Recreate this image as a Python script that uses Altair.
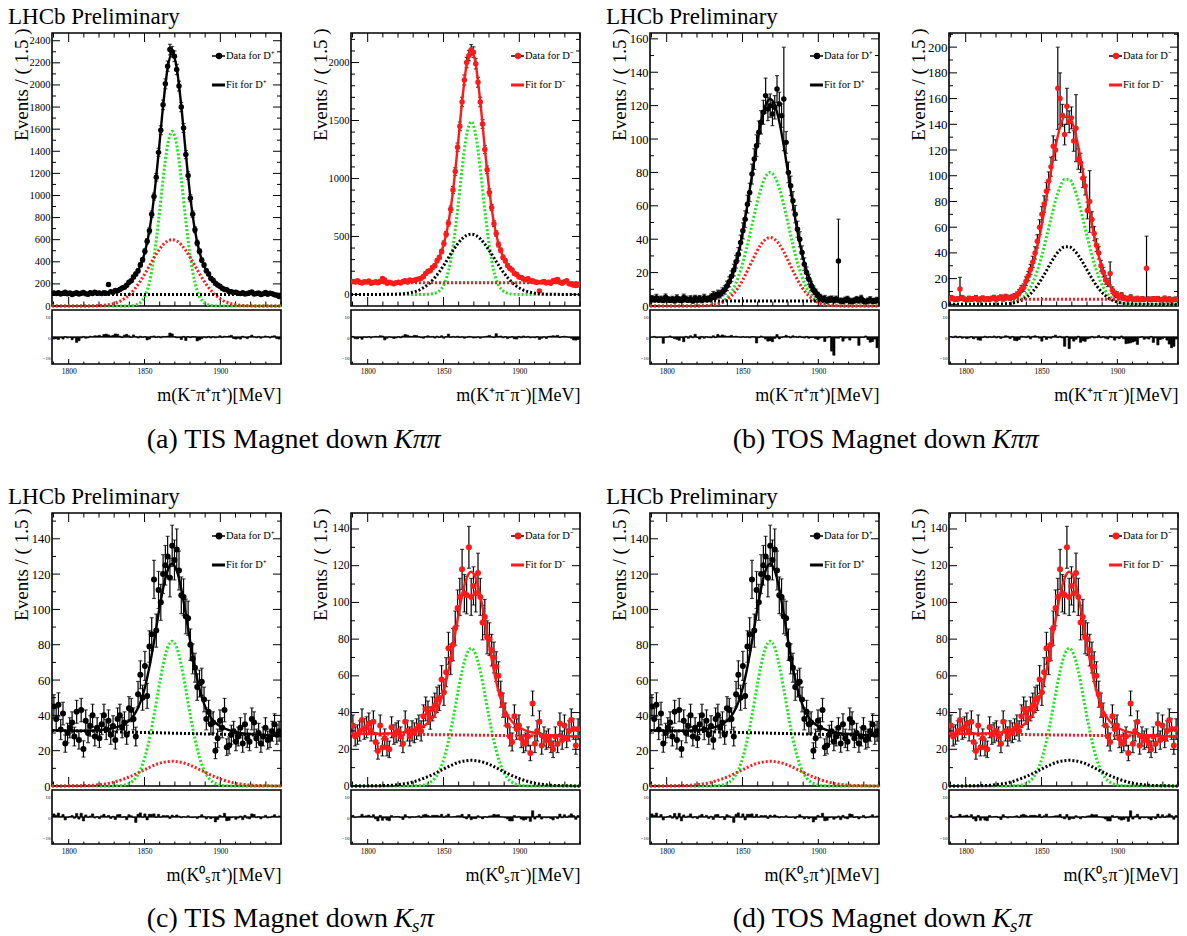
import altair as alt
import pandas as pd

SERIF = "Liberation Serif"
GREEN = "#22e022"
RED = "#ff1a1a"
BLACK = "#000000"

W, HM, GAP, HR = 229, 273, 4, 54
HT = HM + GAP + HR

XDOM = [1789, 1940]
FIRST_CENTRE = 1790.25
BIN_WIDTH = 1.5
N_BINS = 100
X_MAJOR = [1800, 1850, 1900]
X_MINOR = [1790, 1810, 1820, 1830, 1840, 1860, 1870, 1880, 1890, 1910, 1920, 1930, 1940]
PULL_DOM = [-13, 13]
PULL_LABELS = [-10, 0, 10]

CURVE_X = [1789, 1808.25, 1817.25, 1823.25, 1826.25, 1829.25, 1832.25, 1835.25, 1838.25,
           1841.25, 1844.25, 1847.25, 1850.25, 1853.25, 1856.25, 1859.25, 1862.25, 1865.25,
           1868.25, 1871.25, 1874.25, 1877.25, 1880.25, 1883.25, 1886.25, 1889.25, 1892.25,
           1895.25, 1898.25, 1901.25, 1904.25, 1907.25, 1910.25, 1913.25, 1919.25, 1928.25, 1940]
BG_X = [1789, 1940]

# ---------------- (a) TIS Kpipi, D+ ----------------
AL_DATA = [118, 112, 121, 108, 115, 124, 110, 117, 104, 113, 120, 109, 116, 122, 111, 107, 119, 114, 125, 116,
           118, 112, 121, 115, 195, 128, 124, 140, 138, 150,
           162, 170, 188, 215, 228, 262, 290, 318, 372, 418,
           495, 585, 680, 830, 990, 1165, 1390, 1590, 1820, 2010,
           2170, 2320, 2300, 2260, 2140, 1990, 1800, 1610, 1370, 1180,
           975, 830, 690, 570, 495, 415, 370, 318, 290, 250,
           232, 205, 190, 178, 160, 150, 146, 132, 128, 122,
           124, 116, 112, 119, 108, 114, 120, 126, 109, 113,
           118, 104, 111, 122, 107, 115, 110, 101, 97, 85]
AL_ERR = [11, 11, 11, 10, 11, 11, 10, 11, 10, 11, 11, 10, 11, 11, 11, 10, 11, 11, 11, 11,
          11, 11, 11, 11, 14, 11, 11, 12, 12, 12,
          13, 13, 14, 15, 15, 16, 17, 18, 19, 20,
          22, 24, 26, 29, 31, 34, 37, 40, 43, 45,
          47, 48, 48, 48, 46, 45, 42, 40, 37, 34,
          31, 29, 26, 24, 22, 20, 19, 18, 17, 16,
          15, 14, 14, 13, 13, 12, 12, 11, 11, 11,
          11, 11, 11, 11, 10, 11, 11, 11, 10, 11,
          11, 10, 11, 11, 10, 11, 10, 10, 10, 9]
AL_PULL = [-1.0, -0.8, -1.2, -0.3, -1.0, 0.2, -0.5, -0.2, -1.3, -0.4, -2.6, -1.8, -0.5, 0.3, -0.6, -0.4, 0.4, 0.1, 0.6, 0.5,
           0.8, 0.3, 1.2, 1.4, 1.0, 0.5, 0.8, 1.5, 1.3, 0.4,
           -0.3, 0.9, 1.3, 0.6, -0.2, 1.0, 0.2, -0.5, 0.4, -0.2,
           0.2, -1.4, -1.0, 0.3, 0.5, -0.3, 0.3, -0.4, 0.3, 0.2,
           0.4, 1.9, 1.5, 0.2, -0.4, -0.3, -1.2, 0.3, -1.7, 0.2,
           -0.3, 0.2, 0.1, -1.9, -1.4, -0.8, 0.1, -0.4, 0.3, -0.5,
           0.2, -0.4, -0.1, 0.6, -0.3, 0.4, 0.2, 0.5, 0.8, -0.7,
           -1.0, -0.6, -1.0, 0.4, -0.3, -0.8, 0.2, 0.9, 0.1, -0.4,
           0.3, -0.6, -0.1, 0.5, 0.2, -0.5, 0.4, 0.6, -0.8, -1.0]
AL_TOTAL = [108, 108, 110, 115, 120, 128, 142, 161, 190, 229, 285, 365, 488, 685, 983, 1378, 1809, 2154,
            2288, 2154, 1809, 1378, 983, 685, 488, 365, 285, 229, 190, 161, 142, 128, 120, 115, 110, 108, 108]
AL_SIG = [0, 0, 0, 0, 0, 0, 0, 0, 0.5, 2.4, 9.5, 32, 88, 213, 439, 769, 1147, 1458,
          1580, 1458, 1147, 769, 439, 213, 88, 32, 9.5, 2.4, 0.5, 0, 0, 0, 0, 0, 0, 0, 0]
AL_WIDE = [0, 0.2, 1.9, 6.7, 12, 20, 34, 53, 81, 119, 167, 225, 292, 364, 436, 501, 554, 588,
           600, 588, 554, 501, 436, 364, 292, 225, 167, 119, 81, 53, 34, 20, 12, 6.7, 1.9, 0.2, 0]
AL_BG = [105, 105]

# ---------------- (a) TIS Kpipi, D- ----------------
AR_DATA = [112, 108, 118, 104, 99, 110, 106, 115, 97, 103, 109, 101, 112, 138, 125, 96, 104, 99, 92, 101,
           105, 98, 112, 118, 106, 124, 116, 122, 128, 134,
           140, 155, 180, 200, 205, 232, 248, 290, 318, 370,
           440, 520, 615, 735, 900, 1060, 1270, 1450, 1660, 1850,
           2000, 2060, 2110, 2090, 1990, 1830, 1660, 1470, 1250, 1075,
           880, 750, 610, 525, 430, 380, 320, 290, 250, 225,
           210, 180, 172, 150, 145, 132, 126, 135, 115, 118,
           108, 104, 30, 106, 112, 98, 104, 96, 118, 122,
           128, 104, 96, 110, 118, 92, 88, 80, 76, 82]
AR_ERR = [11, 10, 11, 10, 10, 10, 10, 11, 10, 10, 10, 10, 11, 12, 11, 10, 10, 10, 10, 10,
          10, 10, 11, 11, 10, 11, 11, 11, 11, 12,
          12, 12, 13, 14, 14, 15, 16, 17, 18, 19,
          21, 23, 25, 27, 30, 33, 36, 38, 41, 43,
          45, 45, 46, 46, 45, 43, 41, 38, 35, 33,
          30, 27, 25, 23, 21, 19, 18, 17, 16, 15,
          14, 13, 13, 12, 12, 11, 11, 12, 11, 11,
          10, 10, 5, 10, 11, 10, 10, 10, 11, 11,
          11, 10, 10, 10, 11, 10, 9, 9, 9, 9]
AR_PULL = [0.3, -0.8, -0.9, -0.2, -1.1, 0.1, -0.3, 0.2, -0.5, 0.1, 0.3, 0.1, 0.6, 0.5, -1.4, -0.6, 0.1, -0.2, -0.7, -0.5,
           0.2, -0.4, 0.5, 1.2, 0.9, 0.4, 0.3, 0.8, 0.7, 0.2,
           -0.3, -0.6, 0.2, 0.6, 0.1, 0.3, -0.5, 0.4, -0.2, 0.6,
           -0.6, 0.2, 1.4, -0.2, 0.3, -0.1, 0.4, -0.3, 0.1, -0.6,
           -0.2, 0.3, 0.1, -0.5, -0.4, 0.1, -0.6, -0.1, 0.2, 0.4,
           0.8, 0.1, -0.3, 1.6, 0.3, 0.5, -0.4, 0.2, -0.8, -0.3,
           0.2, -0.9, -1.0, 0.3, -0.4, 0.5, -0.2, 0.3, -0.5, -0.1,
           -0.4, 0.2, -1.2, -0.6, 0.1, -0.7, 0.3, 0.4, 0.6, 0.5,
           0.8, -0.3, 0.2, 0.4, 0.1, -0.2, -0.6, -1.4, -1.5, -1.2]
AR_TOTAL = [100, 100, 102, 106, 110, 118, 129, 146, 170, 205, 254, 325, 436, 617, 892, 1260, 1662, 1985,
            2110, 1985, 1662, 1260, 892, 617, 436, 325, 254, 205, 170, 146, 129, 118, 110, 106, 102, 100, 100]
AR_SIG = [0, 0, 0, 0, 0, 0, 0, 0, 0.4, 2.2, 9, 30, 83, 201, 414, 726, 1082, 1375,
          1490, 1375, 1082, 726, 414, 201, 83, 30, 9, 2.2, 0.4, 0, 0, 0, 0, 0, 0, 0, 0]
AR_WIDE = [0, 0.2, 1.6, 5.7, 10, 18, 29, 46, 70, 103, 145, 195, 253, 316, 378, 434, 480, 510,
           520, 510, 480, 434, 378, 316, 253, 195, 145, 103, 70, 46, 29, 18, 10, 5.7, 1.6, 0.2, 0]
AR_BG = [100, 100]

# ---------------- (b) TOS Kpipi, D+ ----------------
BL_DATA = [4.5, 4, 5, 3.8, 4.2, 3.5, 5.2, 4, 3.6, 4.1, 3.2, 4.8, 3.9, 3.5, 5.1, 4.2, 3.7, 4.4, 3.1, 4.6,
           3.8, 4.5, 3.4, 5, 4.1, 4.3, 5.2, 6.5, 6, 7.2,
           7, 8.5, 9.6, 12, 14.5, 17.8, 21.5, 26.5, 31, 38,
           45, 52, 61, 68, 79, 88, 96, 104, 110, 116,
           126, 118, 120, 115, 119, 130, 121, 114, 124, 98,
           80, 72, 63, 55, 46, 40, 32, 25, 20, 16,
           12, 9.5, 7.8, 6, 5, 3.8, 4.4, 3.2, 3.9, 4.2,
           3.5, 4.1, 27, 3.2, 2.8, 3.6, 4, 3.1, 2.7, 3.3,
           3.9, 3.4, 4.5, 3, 2.6, 3.2, 3.8, 2.9, 3.1, 3.5]
BL_ERR = [1.8, 1.6, 2, 1.5, 1.7, 1.5, 2, 1.6, 1.5, 1.7, 1.4, 1.9, 1.6, 1.5, 2, 1.7, 1.5, 1.8, 1.4, 1.8,
          1.6, 1.8, 1.5, 2, 1.7, 1.7, 2, 2.2, 2.1, 2.3,
          2.2, 2.4, 2.5, 2.8, 3, 3.2, 3.5, 3.8, 4, 4.5,
          4.8, 5, 5.3, 5.5, 6, 6.2, 6.5, 6.8, 7, 7.2,
          10.5, 7, 7, 7, 7, 8, 7, 7, 31, 6.5,
          6.2, 5.8, 5.5, 5.2, 4.8, 4.5, 4, 3.8, 3.4, 3,
          2.8, 2.5, 2.3, 2.1, 2, 1.8, 1.9, 1.6, 1.8, 1.8,
          1.7, 1.8, 25, 1.6, 1.5, 1.7, 1.8, 1.6, 1.5, 1.6,
          1.8, 1.7, 1.9, 1.5, 1.4, 1.6, 1.8, 1.5, 1.6, 1.7]
BL_PULL = [-0.2, 0.3, -0.4, -0.2, -0.1, -3.0, -0.2, 0.1, 0.5, -0.3, -0.8, -1.1, -1.6, -0.3, -2.3, 0.3, -0.6, 0.6, -0.4, 1.3,
           -0.2, -1.0, 0.3, -0.6, 0.2, -0.3, -0.4, 0.6, -0.3, 1.2,
           0.5, 1.0, 0.6, 0.3, 0.4, 0.8, 0.2, 0.4, 0.1, -0.2,
           0.3, -0.2, 0.1, -0.4, 0.2, 0.1, -2.9, -0.3, 0.5, -0.1,
           -1.0, -2.0, -1.8, -2.3, -0.7, 1.2, -0.9, -0.3, 0.2, 0.8,
           0.3, -0.4, 0.6, 0.2, -0.3, 0.4, -0.2, -0.5, 0.3, -0.6,
           -0.3, -0.2, -0.8, -1.2, -0.5, -0.3, -2.2, -0.4, 0.2, -6.8,
           -8.8, -0.5, -0.6, 0.2, -2.0, -0.6, -0.4, -1.5, -0.3, -0.4,
           -0.4, -4.0, -0.2, -0.3, 0.5, -1.2, -2.5, -2.2, -1.0, -5.2]
BL_TOTAL = [3, 3, 3, 3.2, 3.4, 3.9, 4.8, 6.4, 9.4, 14.2, 21.3, 31.4, 44.7, 60.7, 78.4, 95.7, 110.5, 120.4,
            124, 120.4, 110.5, 95.7, 78.4, 60.7, 44.7, 31.4, 21.3, 14.2, 9.4, 6.4, 4.8, 3.9, 3.4, 3.2, 3, 3, 3]
BL_SIG = [0, 0, 0, 0.1, 0.2, 0.4, 0.9, 1.8, 3.5, 6.4, 10.8, 17.3, 26, 36.6, 48.6, 60.4, 70.6, 77.5,
          80, 77.5, 70.6, 60.4, 48.6, 36.6, 26, 17.3, 10.8, 6.4, 3.5, 1.8, 0.9, 0.4, 0.2, 0.1, 0, 0, 0]
BL_WIDE = [0, 0, 0, 0.1, 0.2, 0.5, 0.9, 1.6, 2.9, 4.8, 7.5, 11.1, 15.7, 21.1, 26.8, 32.3, 36.9, 39.9,
           41, 39.9, 36.9, 32.3, 26.8, 21.1, 15.7, 11.1, 7.5, 4.8, 2.9, 1.6, 0.9, 0.5, 0.2, 0.1, 0, 0, 0]
BL_BG = [3, 3]

# ---------------- (b) TOS Kpipi, D- ----------------
BR_DATA = [5, 4.5, 3.8, 4.2, 12, 5.1, 4, 3.5, 4.6, 3.9, 4.4, 5, 3.6, 4.1, 4.8, 3.7, 4.3, 3.9, 4.6, 5.2,
           4, 4.8, 5.5, 4.2, 5.9, 5.3, 5, 5.8, 6.3, 7.4,
           9, 12, 13, 18, 22, 27, 33, 40, 49, 60,
           70, 78, 88, 96, 107, 123, 120, 168, 160, 147,
           132, 154, 142, 145, 127, 137, 113, 110, 98, 92,
           73, 80, 66, 55, 46, 40, 30, 25, 19, 17,
           24, 11, 8, 7.5, 5.5, 7, 5, 4.5, 4.2, 5.5,
           4, 3.8, 4.5, 3.6, 4.2, 3.9, 28, 4.1, 3.7, 4.3,
           3.9, 4.4, 3.6, 3.8, 4.6, 3.5, 4.1, 3.2, 3.8, 4]
BR_ERR = [1.8, 1.7, 1.5, 1.6, 9, 1.8, 1.6, 1.5, 1.7, 1.5, 1.6, 1.8, 1.5, 1.6, 1.7, 1.5, 1.6, 1.5, 1.7, 1.8,
          1.6, 1.7, 1.8, 1.6, 1.9, 1.8, 1.8, 1.9, 2, 2.2,
          2.4, 2.7, 2.9, 3.3, 3.6, 4, 4.4, 4.8, 5.2, 5.8,
          6, 6.4, 6.8, 7, 7.4, 8, 8, 32, 20, 8.5,
          8, 14, 8.5, 8.5, 8, 26, 8, 7.5, 7.2, 7,
          6.5, 24, 6, 5.5, 5, 4.8, 4.2, 3.8, 3.4, 3.2,
          9, 2.6, 2.3, 2.2, 2, 2.1, 1.9, 1.8, 1.7, 1.9,
          1.6, 1.6, 1.7, 1.5, 1.7, 1.6, 25, 1.6, 1.5, 1.7,
          1.6, 1.7, 1.5, 1.6, 1.8, 1.5, 1.7, 1.4, 1.6, 1.6]
BR_PULL = [0.2, -0.3, 0.5, -0.4, 0.3, -0.6, -0.2, -0.8, -0.5, 0.2, -0.9, -0.2, -1.4, -1.6, -0.3, 0.4, -0.4, 0.2, -0.3, 0.5,
           -0.5, 0.3, -0.7, -0.2, 0.6, 0.4, -0.8, 0.3, -1.6, -1.8,
           -1.2, 0.4, 0.2, -0.3, 0.5, -0.9, 0.3, 0.6, 0.2, -0.6,
           -2.0, 0.3, -1.2, -0.4, -0.6, 0.3, 0.9, -0.3, 0.4, -0.5,
           -4.5, 0.3, -5.6, -0.8, -2.0, -1.1, 0.4, -2.6, -1.8, -2.1,
           -0.9, -0.6, 0.3, -0.5, -0.3, 0.7, -0.4, 0.2, -0.6, -1.0,
           0.4, -0.3, -1.5, -0.4, -0.8, 0.5, -0.9, -3.2, -3.0, -2.8,
           -2.4, -2.0, -3.6, -0.3, 0.2, -1.1, -0.6, -1.0, 0.3, -2.6,
           -0.5, -3.8, -1.2, -0.9, -0.2, -1.5, -3.4, -5.2, -4.5, -1.0]
BR_TOTAL = [4, 4, 4.1, 4.3, 4.6, 5.4, 7, 9.5, 14, 20.9, 31, 44.8, 62.2, 82.2, 103.3, 122.8, 137.7, 145.9,
            145.9, 137.7, 122.8, 103.3, 82.2, 62.2, 44.8, 31, 20.9, 14, 9.5, 7, 5.4, 4.6, 4.3, 4.1, 4, 4, 4]
BR_SIG = [0, 0, 0, 0.1, 0.3, 0.7, 1.6, 3.1, 5.9, 10.3, 16.9, 26.2, 38.1, 52, 66.8, 80.7, 91.3, 97.2,
          97.2, 91.3, 80.7, 66.8, 52, 38.1, 26.2, 16.9, 10.3, 5.9, 3.1, 1.6, 0.7, 0.3, 0.1, 0, 0, 0, 0]
BR_WIDE = [0, 0, 0, 0.2, 0.4, 0.7, 1.4, 2.4, 4.1, 6.6, 10.1, 14.6, 20.1, 26.2, 32.5, 38.1, 42.4, 44.7,
           44.7, 42.4, 38.1, 32.5, 26.2, 20.1, 14.6, 10.1, 6.6, 4.1, 2.4, 1.4, 0.7, 0.4, 0.2, 0, 0, 0, 0]
BR_BG = [4, 4]

# ---------------- (c)/(d) Ks pi, D+ ----------------
CL_DATA = [45, 38, 46, 32, 41, 24, 30, 33, 36, 28,
           42, 26, 43, 21, 37, 30, 34, 40, 28, 33,
           27, 35, 40, 32, 37, 29, 34, 26, 38, 40,
           33, 36, 29, 44, 43, 38, 28, 52, 63, 50,
           68, 51, 79, 86, 117, 88, 111, 104, 120, 125,
           130, 118, 136, 128, 134, 122, 108, 107, 96, 95,
           80, 72, 67, 56, 58, 59, 49, 38, 42, 35,
           36, 20, 27, 37, 33, 43, 22, 23, 29, 31,
           25, 28, 33, 24, 35, 27, 25, 38, 36, 27,
           30, 24, 28, 33, 26, 27, 31, 35, 29, 31]
CL_ERR = [6.7, 6.2, 6.8, 5.7, 6.4, 4.9, 5.5, 5.7, 6, 5.3,
          6.5, 5.1, 6.6, 4.6, 6.1, 5.5, 5.8, 6.3, 5.3, 5.7,
          5.2, 5.9, 6.3, 5.7, 6.1, 5.4, 5.8, 5.1, 6.2, 6.3,
          5.7, 6, 5.4, 6.6, 6.6, 6.2, 5.3, 7.2, 7.9, 7.1,
          8.2, 7.1, 8.9, 9.3, 10.8, 9.4, 10.5, 10.2, 11, 11.2,
          11.4, 10.9, 11.7, 11.3, 11.6, 11, 10.4, 10.3, 9.8, 9.7,
          8.9, 8.5, 8.2, 7.5, 7.6, 7.7, 7, 6.2, 6.5, 5.9,
          6, 4.5, 5.2, 6.1, 5.7, 6.6, 4.7, 4.8, 5.4, 5.6,
          5, 5.3, 5.7, 4.9, 5.9, 5.2, 5, 6.2, 6, 5.2,
          5.5, 4.9, 5.3, 5.7, 5.1, 5.2, 5.6, 5.9, 5.4, 5.6]
CL_PULL = [1.5, 0.8, 1.9, 0.1, 1.2, -1.4, -0.2, 0.2, 0.7, -0.6,
           1.7, -1.0, 1.8, -1.9, 1.0, -0.2, 0.5, 1.5, -0.5, 0.2,
           -0.8, 0.6, 1.3, 0.1, 0.8, -0.7, 0.4, -1.2, 1.1, 1.2,
           -0.2, 0.2, -1.3, 1.1, 0.6, -0.2, -2.6, 1.3, 2.0, -0.1,
           1.5, -1.4, 1.3, 1.3, 1.5, -0.2, 1.3, -0.1, 0.7, 0.6,
           0.7, -0.7, 0.9, 0.3, 1.0, 0.4, -0.4, 0.2, -0.1, 0.6,
           -0.2, -0.3, 0.0, -0.7, 0.3, 1.1, 0.3, -0.9, 0.1, -0.8,
           -0.3, -2.4, -1.2, 0.8, 0.2, 1.8, -1.8, -1.6, -0.4, 0.0,
           -1.1, -0.5, 0.5, -1.3, 0.8, -0.6, -0.9, 1.5, 1.2, -0.3,
           0.2, -0.9, -0.1, 0.8, -0.5, -0.3, 0.4, 1.1, 0.0, 0.5]
CL_TOTAL = [31.5, 31.3, 31.4, 31.9, 32.2, 32.8, 33.5, 34.5, 36, 38.1, 41.8, 47.4, 55.8, 67.5, 81.7, 97.5, 111.9, 122.2,
            125.9, 122, 111.7, 97.1, 81.3, 66.9, 55, 46.6, 40.8, 37.1, 34.8, 33.1, 32.1, 31.2, 30.6, 30.1, 29.4, 28.9, 28.5]
CL_SIG = [0, 0, 0, 0, 0, 0, 0.1, 0.3, 0.9, 2.1, 4.6, 9, 16.2, 26.7, 39.9, 54.7, 68.5, 78.4,
          82, 78.4, 68.5, 54.7, 39.9, 26.7, 16.2, 9, 4.6, 2.1, 0.9, 0.3, 0.1, 0, 0, 0, 0, 0, 0]
CL_WIDE = [0, 0.2, 0.5, 1.1, 1.5, 2.1, 2.8, 3.6, 4.6, 5.6, 6.8, 8.1, 9.3, 10.6, 11.7, 12.7, 13.4, 13.8,
           14, 13.8, 13.4, 12.7, 11.7, 10.6, 9.3, 8.1, 6.8, 5.6, 4.6, 3.6, 2.8, 2.1, 1.5, 1.1, 0.5, 0.2, 0]
CL_BG = [31.5, 28.5]

# ---------------- (c)/(d) Ks pi, D- ----------------
CR_DATA = [33, 27, 28, 30, 36, 31, 32, 34, 30, 35,
           24, 19, 33, 21, 26, 21, 20, 32, 28, 29,
           30, 27, 23, 35, 30, 27, 30, 29, 31, 33,
           30, 38, 42, 40, 37, 42, 44, 47, 48, 58,
           51, 62, 75, 69, 77, 86, 97, 103, 118, 105,
           104, 130, 103, 109, 105, 116, 103, 89, 92, 81,
           80, 74, 70, 65, 60, 50, 44, 39, 33, 27,
           24, 38, 31, 33, 26, 23, 24, 27, 18, 45,
           23, 30, 35, 22, 27, 25, 26, 23, 20, 27,
           23, 34, 25, 33, 26, 30, 36, 31, 22, 31]
CR_ERR = [5.7, 5.2, 5.3, 5.5, 6, 5.6, 5.7, 5.8, 5.5, 5.9,
          4.9, 4.4, 5.7, 4.6, 5.1, 4.6, 4.5, 5.7, 5.3, 5.4,
          5.5, 5.2, 4.8, 5.9, 5.5, 5.2, 5.5, 5.4, 5.6, 5.7,
          5.5, 6.2, 6.5, 6.3, 6.1, 6.5, 6.6, 6.9, 6.9, 7.6,
          7.1, 7.9, 8.7, 8.3, 8.8, 9.3, 9.8, 10.1, 10.9, 10.2,
          10.2, 11.4, 10.1, 10.4, 10.2, 10.8, 10.1, 9.4, 9.6, 9,
          8.9, 8.6, 8.4, 8.1, 7.7, 7.1, 6.6, 6.2, 5.7, 5.2,
          4.9, 6.2, 5.6, 5.7, 5.1, 4.8, 4.9, 5.2, 4.2, 6.7,
          4.8, 5.5, 5.9, 4.7, 5.2, 5, 5.1, 4.8, 4.5, 5.2,
          4.8, 5.8, 5, 5.7, 5.1, 5.5, 6, 5.6, 4.7, 5.6]
CR_PULL = [0.8, -0.3, 0.0, 0.3, 1.3, 0.4, 0.6, 0.9, 0.2, 1.1,
           -0.9, -1.9, 0.8, -1.6, -0.5, -1.5, -1.8, 0.7, 0.0, 0.2,
           0.3, -0.3, -1.2, 1.1, 0.2, -0.5, 0.2, -0.1, 0.3, 0.6,
           -0.3, 1.0, 1.3, 0.8, 0.2, 0.8, 0.8, 0.8, 0.5, 1.3,
           -0.2, 0.6, 1.4, 0.0, 0.1, 0.3, 0.6, 0.6, 1.3, -0.4,
           -0.9, 1.2, -1.3, -0.7, -0.8, 0.6, -0.1, -0.9, 0.2, -0.2,
           0.5, 0.6, 1.3, 1.0, 1.1, 0.1, 0.0, -0.4, -1.0, -1.9,
           -1.9, 0.7, -0.2, 0.3, -1.0, -1.5, -1.2, -0.4, -2.1, 3.0,
           -1.0, 0.4, 1.3, -1.0, -0.1, -0.4, -0.1, -0.7, -1.4, 0.0,
           -0.8, 1.4, -0.4, 1.1, -0.2, 0.6, 1.5, 0.7, -1.1, 0.7]
CR_TOTAL = [28.5, 28.5, 28.7, 29.2, 29.6, 30.2, 31, 31.9, 33.4, 35.6, 38.9, 44.3, 52.1, 62.8, 76, 90.5, 103.8, 113.2,
            116.7, 113.2, 103.6, 90.3, 75.8, 62.6, 51.7, 43.9, 38.5, 35, 32.8, 31.3, 30.2, 29.4, 28.8, 28.4, 27.7, 27.3, 27]
CR_SIG = [0, 0, 0, 0, 0, 0, 0.1, 0.3, 0.8, 2, 4.2, 8.3, 14.9, 24.4, 36.5, 50, 62.6, 71.7,
          75, 71.7, 62.6, 50, 36.5, 24.4, 14.9, 8.3, 4.2, 2, 0.8, 0.3, 0.1, 0, 0, 0, 0, 0, 0]
CR_WIDE = [0, 0.2, 0.5, 1.1, 1.5, 2.1, 2.8, 3.6, 4.6, 5.6, 6.8, 8.1, 9.3, 10.6, 11.7, 12.7, 13.4, 13.8,
           14, 13.8, 13.4, 12.7, 11.7, 10.6, 9.3, 8.1, 6.8, 5.6, 4.6, 3.6, 2.8, 2.1, 1.5, 1.1, 0.5, 0.2, 0]
CR_BG = [28.5, 27]

# ---------------- tick label arrays ----------------
YT_AL = [0, 200, 400, 600, 800, 1000, 1200, 1400, 1600, 1800, 2000, 2200, 2400]
YM_AL = [100, 300, 500, 700, 900, 1100, 1300, 1500, 1700, 1900, 2100, 2300]
YT_AR = [0, 500, 1000, 1500, 2000]
YM_AR = [100, 200, 300, 400, 600, 700, 800, 900, 1100, 1200, 1300, 1400, 1600, 1700, 1800, 1900, 2100, 2200]
YT_BL = [0, 20, 40, 60, 80, 100, 120, 140, 160]
YM_BL = [10, 30, 50, 70, 90, 110, 130, 150]
YT_BR = [0, 20, 40, 60, 80, 100, 120, 140, 160, 180, 200]
YM_BR = [10, 30, 50, 70, 90, 110, 130, 150, 170, 190, 210]
YT_C = [0, 20, 40, 60, 80, 100, 120, 140]
YM_C = [10, 30, 50, 70, 90, 110, 130, 150]

XT_KPP_P = "m(K⁻π⁺π⁺)[MeV]"
XT_KPP_M = "m(K⁺π⁻π⁻)[MeV]"
XT_KS_P = "m(K⁰ₛπ⁺)[MeV]"
XT_KS_M = "m(K⁰ₛπ⁻)[MeV]"


def one():
    return pd.DataFrame({"k": [0.0]})


def text_mark(s, x, y, size, color=BLACK, align="left", style="normal", baseline="alphabetic"):
    return alt.Chart(one()).mark_text(
        text=s, align=align, baseline=baseline, font=SERIF, fontSize=size,
        fontStyle=style, color=color
    ).encode(x=alt.value(x), y=alt.value(y))


def build(p):
    XS = alt.Scale(domain=XDOM, nice=False, zero=False)
    YS = alt.Scale(domain=p["ydom"], range=[HM, 0], nice=False, zero=False)
    RS = alt.Scale(domain=PULL_DOM, range=[HT, HM + GAP], nice=False, zero=False)

    centres = [FIRST_CENTRE + BIN_WIDTH * i for i in range(N_BINS)]
    d = pd.DataFrame({"x": centres, "y": p["data"], "e": p["err"], "pull": p["pull"]})
    d["lo"] = d["y"] - d["e"]
    d["hi"] = d["y"] + d["e"]
    d["xl"] = d["x"] - BIN_WIDTH / 2
    d["xr"] = d["x"] + BIN_WIDTH / 2
    d["z"] = 0.0
    cv = pd.DataFrame({"x": CURVE_X, "total": p["total"], "sig": p["sig"], "wide": p["wide"]})
    bg = pd.DataFrame({"x": BG_X, "bg": p["bg"]})

    def X(f):
        return alt.X(f + ":Q", scale=XS, axis=None)

    def Y(f, axis=None):
        return alt.Y(f + ":Q", scale=YS, axis=axis)

    lo, hi = p["ydom"]

    def xt(vals, y0, y1):
        return alt.Chart(pd.DataFrame({"v": vals})).mark_rule(
            color=BLACK, strokeWidth=1).encode(x=X("v"), y=alt.value(y0), y2=alt.value(y1))

    def yt(vals, x0, x1):
        vv = [v for v in vals if lo <= v <= hi]
        return alt.Chart(pd.DataFrame({"v": vv})).mark_rule(
            color=BLACK, strokeWidth=1).encode(y=Y("v"), x=alt.value(x0), x2=alt.value(x1))

    L = []
    # frames
    L.append(alt.Chart(one()).mark_rect(fillOpacity=0, stroke=BLACK, strokeWidth=1.6).encode(
        x=alt.value(0), x2=alt.value(W), y=alt.value(0), y2=alt.value(HM)))
    L.append(alt.Chart(one()).mark_rect(fillOpacity=0, stroke=BLACK, strokeWidth=1.6).encode(
        x=alt.value(0), x2=alt.value(W), y=alt.value(HM + GAP), y2=alt.value(HT)))
    # inward ticks
    L += [xt(X_MAJOR, 0, 9), xt(X_MINOR, 0, 4.5), xt(X_MAJOR, HM - 9, HM), xt(X_MINOR, HM - 4.5, HM),
          xt(X_MAJOR, HT - 5, HT), xt(X_MINOR, HT - 2.5, HT)]
    L += [yt(p["ymaj"], 0, 8), yt(p["ymin"], 0, 4), yt(p["ymaj"], W - 8, W), yt(p["ymin"], W - 4, W)]

    # error bars
    L.append(alt.Chart(d).mark_rule(color=BLACK, strokeWidth=1.2, clip=True).encode(
        x=X("x"), y=Y("lo"), y2="hi:Q"))
    L.append(alt.Chart(d).mark_tick(orient="horizontal", size=4, thickness=1.2, color=BLACK, clip=True).encode(
        x=X("x"), y=Y("lo")))
    L.append(alt.Chart(d).mark_tick(orient="horizontal", size=4, thickness=1.2, color=BLACK, clip=True).encode(
        x=X("x"), y=Y("hi")))
    # data points
    L.append(alt.Chart(d).mark_circle(size=p["msize"], color=p["col"], opacity=1, clip=True).encode(
        x=X("x"), y=Y("y")))

    yaxis = alt.Axis(orient="left", values=p["ymaj"], format="d", ticks=False, domain=False, grid=False,
                     labelFont=SERIF, labelFontSize=p["lsize"], labelColor=BLACK, labelPadding=2,
                     labelOverlap=False, labelFlush=False,
                     title="Events / ( 1.5 )", titleFont=SERIF, titleFontSize=19,
                     titleFontWeight="normal", titleColor=BLACK, titleAngle=270,
                     titleAlign="right", titleBaseline="middle", titleX=-31, titleY=-5)
    # total fit
    L.append(alt.Chart(cv).mark_line(color=p["col"], strokeWidth=2.4, interpolate="monotone", clip=True).encode(
        x=X("x"), y=Y("total", yaxis)))
    # components
    dot = [2, 2]
    L.append(alt.Chart(cv).mark_line(color=GREEN, strokeWidth=3, strokeDash=dot, interpolate="monotone",
                                     clip=True).encode(x=X("x"), y=Y("sig")))
    L.append(alt.Chart(cv).mark_line(color=p["wide_col"], strokeWidth=3, strokeDash=dot, interpolate="monotone",
                                     clip=True).encode(x=X("x"), y=Y("wide")))
    L.append(alt.Chart(bg).mark_line(color=p["bg_col"], strokeWidth=3, strokeDash=dot, clip=True).encode(
        x=X("x"), y=Y("bg")))

    # legend
    L.append(alt.Chart(one()).mark_rule(color=BLACK, strokeWidth=1.5).encode(
        x=alt.value(W - 69), x2=alt.value(W - 56), y=alt.value(23)))
    L.append(alt.Chart(one()).mark_circle(size=p["msize"] + 10, color=p["col"], opacity=1).encode(
        x=alt.value(W - 62), y=alt.value(23)))
    L.append(alt.Chart(one()).mark_rule(color=p["col"], strokeWidth=3).encode(
        x=alt.value(W - 69), x2=alt.value(W - 56), y=alt.value(52)))
    L.append(text_mark("Data for D" + p["sign"], W - 55, 23, 10.5, baseline="middle"))
    L.append(text_mark("Fit for D" + p["sign"], W - 55, 52, 10.5, baseline="middle"))

    # residual panel
    L.append(alt.Chart(one()).mark_rule(color=BLACK, strokeWidth=1).encode(
        y=alt.Y("k:Q", scale=RS, axis=None), x=alt.value(0), x2=alt.value(W)))
    xaxis = alt.Axis(orient="bottom", values=X_MAJOR, format="d", ticks=False, domain=False, grid=False,
                     labelFont=SERIF, labelFontSize=7.5, labelColor=BLACK, labelPadding=3,
                     labelFlush=False, labelOverlap=False,
                     title=p["xtitle"], titleFont=SERIF, titleFontSize=18, titleFontWeight="normal",
                     titleColor=BLACK, titleAlign="right", titleBaseline="alphabetic",
                     titleX=W, titleY=36)
    raxis = alt.Axis(orient="left", values=PULL_LABELS, format="d", ticks=False, domain=False, grid=False,
                     labelFont=SERIF, labelFontSize=5, labelColor=BLACK, labelPadding=2,
                     labelOverlap=False, labelFlush=False, title=None)
    L.append(alt.Chart(d).mark_rect(color=BLACK, stroke=BLACK, strokeWidth=0.6, clip=True).encode(
        x=alt.X("xl:Q", scale=XS, axis=xaxis), x2="xr:Q",
        y=alt.Y("z:Q", scale=RS, axis=raxis), y2="pull:Q"))

    if p.get("lhcb"):
        L.append(text_mark("LHCb Preliminary", -44, -9, 23))
    for (s, x, dy, size, style, align) in p.get("caption", []):
        L.append(text_mark(s, x, p["cap_y"] + dy, size, style=style, align=align))

    return alt.layer(*L).properties(width=W, height=HT).resolve_scale(x="independent", y="independent")


def cap_kpp(letter, trig):
    return [("(" + letter + ") " + trig + " Magnet down", 336, 0, 28, "normal", "right"),
            ("Kππ", 342, 0, 28, "italic", "left")]


def cap_ks(letter, trig):
    return [("(" + letter + ") " + trig + " Magnet down", 336, 0, 28, "normal", "right"),
            ("K", 342, 0, 28, "italic", "left"),
            ("s", 360, 5, 19, "italic", "left"),
            ("π", 368, 0, 28, "italic", "left")]


def plus_panel(data, err, pull, total, sig, wide, bgv, ydom, ymaj, ymin, lsize, xtitle, msize, **kw):
    p = dict(data=data, err=err, pull=pull, total=total, sig=sig, wide=wide, bg=bgv, col=BLACK,
             wide_col=RED, bg_col=BLACK, ydom=ydom, ymaj=ymaj, ymin=ymin, lsize=lsize, xtitle=xtitle,
             sign="⁺", msize=msize)
    p.update(kw)
    return p


def minus_panel(data, err, pull, total, sig, wide, bgv, ydom, ymaj, ymin, lsize, xtitle, msize, **kw):
    p = dict(data=data, err=err, pull=pull, total=total, sig=sig, wide=wide, bg=bgv, col=RED,
             wide_col=BLACK, bg_col=RED, ydom=ydom, ymaj=ymaj, ymin=ymin, lsize=lsize, xtitle=xtitle,
             sign="⁻", msize=msize)
    p.update(kw)
    return p


PANELS = [
    plus_panel(AL_DATA, AL_ERR, AL_PULL, AL_TOTAL, AL_SIG, AL_WIDE, AL_BG, [0, 2470], YT_AL, YM_AL, 10.5,
               XT_KPP_P, 30, lhcb=True, caption=cap_kpp("a", "TIS"), cap_y=415),
    minus_panel(AR_DATA, AR_ERR, AR_PULL, AR_TOTAL, AR_SIG, AR_WIDE, AR_BG, [-100, 2255], YT_AR, YM_AR, 10.5,
                XT_KPP_M, 30),
    plus_panel(BL_DATA, BL_ERR, BL_PULL, BL_TOTAL, BL_SIG, BL_WIDE, BL_BG, [0, 163.5], YT_BL, YM_BL, 12.5,
               XT_KPP_P, 30, lhcb=True, caption=cap_kpp("b", "TOS"), cap_y=415),
    minus_panel(BR_DATA, BR_ERR, BR_PULL, BR_TOTAL, BR_SIG, BR_WIDE, BR_BG, [-1.3, 211], YT_BR, YM_BR, 13,
                XT_KPP_M, 30),
    plus_panel(CL_DATA, CL_ERR, CL_PULL, CL_TOTAL, CL_SIG, CL_WIDE, CL_BG, [0, 154.6], YT_C, YM_C, 12.5,
               XT_KS_P, 36, lhcb=True, caption=cap_ks("c", "TIS"), cap_y=414),
    minus_panel(CR_DATA, CR_ERR, CR_PULL, CR_TOTAL, CR_SIG, CR_WIDE, CR_BG, [0, 148.7], YT_C, YM_C, 11.5,
                XT_KS_M, 36),
    plus_panel(CL_DATA, CL_ERR, CL_PULL, CL_TOTAL, CL_SIG, CL_WIDE, CL_BG, [0, 154.6], YT_C, YM_C, 12.5,
               XT_KS_P, 36, lhcb=True, caption=cap_ks("d", "TOS"), cap_y=414),
    minus_panel(CR_DATA, CR_ERR, CR_PULL, CR_TOTAL, CR_SIG, CR_WIDE, CR_BG, [0, 148.7], YT_C, YM_C, 11.5,
                XT_KS_M, 36),
]

chart = alt.concat(*[build(p) for p in PANELS], columns=4,
                   spacing={"row": 149, "column": 70}, bounds="flush").properties(
    padding={"left": 8, "top": 6, "right": 4, "bottom": 4},
    background="white",
).configure_view(strokeWidth=0)

chart.save("out.html", embed_options={"renderer": "svg", "actions": False})
